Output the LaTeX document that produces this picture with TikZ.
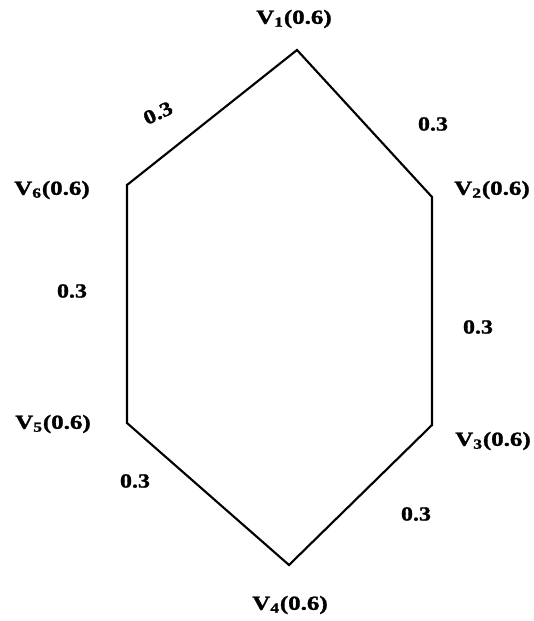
\documentclass[tikz,border=0pt]{standalone}
\usepackage{fontspec}
\setmainfont{Liberation Serif}[BoldFeatures={FakeBold=1.2}]
\begin{document}
\begin{tikzpicture}[x=0.75pt,y=-0.75pt,
  lbl/.style={inner sep=0pt,font=\fontsize{15}{17}\selectfont\bfseries},
  edge/.style={line width=1.6pt,line join=miter}]
\useasboundingbox (0,0) rectangle (533,621);
\coordinate (v1) at (297,50);
\coordinate (v2) at (432,197);
\coordinate (v3) at (432,425);
\coordinate (v4) at (289,565);
\coordinate (v5) at (127,423);
\coordinate (v6) at (127,185);
\draw[edge] (v1) -- (v2) -- (v3) -- (v4) -- (v5) -- (v6) -- cycle;
\newcommand{\vl}[1]{\scalebox{1.25}[1]{V\textsubscript{#1}(0.6)}}
\newcommand{\el}{\scalebox{1.2}[1]{0.3}}
\node[lbl] (l1) at (294,19) {\vl{1}};
\node[lbl] (l2) at (492,190) {\vl{2}};
\node[lbl] (l3) at (493,441) {\vl{3}};
\node[lbl] (l4) at (290,605) {\vl{4}};
\node[lbl] (l5) at (53,424) {\vl{5}};
\node[lbl] (l6) at (52,190) {\vl{6}};
\node[lbl,rotate=25] (e1) at (158,113) {\el};
\node[lbl] (e2) at (433,124) {\el};
\node[lbl] (e3) at (478,327) {\el};
\node[lbl] (e4) at (416,514) {\el};
\node[lbl] (e5) at (135,481) {\el};
\node[lbl] (e6) at (72,291) {\el};
\end{tikzpicture}
\end{document}
